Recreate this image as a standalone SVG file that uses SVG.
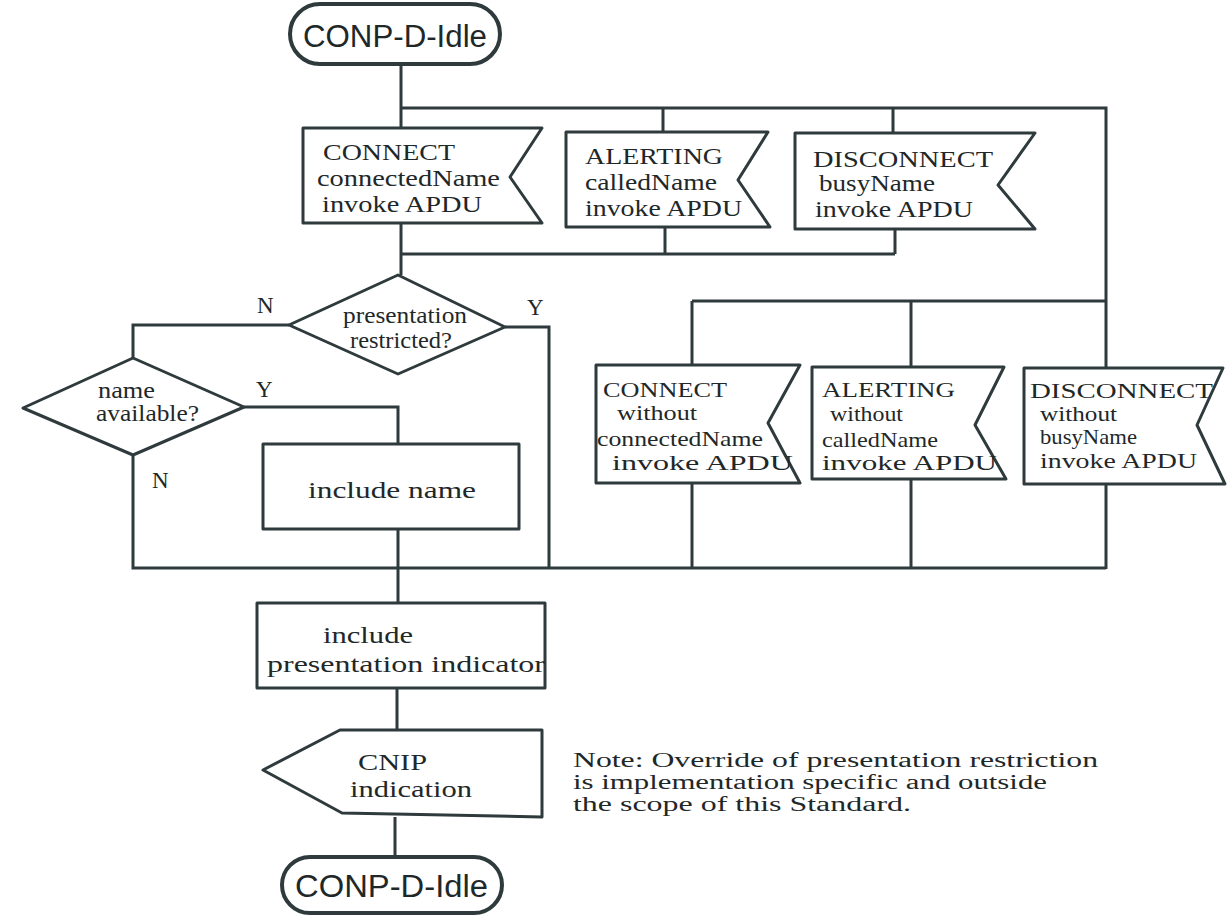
<svg xmlns="http://www.w3.org/2000/svg" width="1229" height="917" viewBox="0 0 1229 917">
<style>
.s{fill:#fff;stroke:#2e3a3c;stroke-width:3;stroke-linejoin:round}
.t{fill:none;stroke:#2e3a3c;stroke-width:4}
.c{fill:none;stroke:#2e3a3c;stroke-width:3;stroke-linejoin:miter}
text{fill:#1f2829;font-family:"Liberation Serif","Times New Roman",serif;font-size:23px}
.sans{font-family:"Liberation Sans",Arial,sans-serif;font-size:31px}
.lbl{font-size:23px}
.note{font-size:20px}
.sm{font-size:21px}
</style>
<rect width="1229" height="917" fill="#fff"/>
<g id="connectors">
<path class="c" d="M401,64 V128"/>
<path class="c" d="M401,108 H1106 V368"/>
<path class="c" d="M663,108 V132"/>
<path class="c" d="M893,108 V133"/>
<path class="c" d="M401,223 V275"/>
<path class="c" d="M665,227 V254"/>
<path class="c" d="M895,230 V254"/>
<path class="c" d="M401,254 H895"/>
<path class="c" d="M692,301 H1106"/>
<path class="c" d="M692,301 V365"/>
<path class="c" d="M911,301 V367"/>
<path class="c" d="M692,484 V569"/>
<path class="c" d="M911,479 V569"/>
<path class="c" d="M1106,484 V569"/>
<path class="c" d="M289,325 H133 V358"/>
<path class="c" d="M505,327 H549 V569"/>
<path class="c" d="M244,407 H398 V444"/>
<path class="c" d="M133,455 V568 H1106"/>
<path class="c" d="M398,529 V603"/>
<path class="c" d="M397,688 V730"/>
<path class="c" d="M395,817 V857"/>
</g>
<g id="start">
<rect class="t" x="290" y="4" width="210" height="60" rx="30" fill="#fff"/>
<text class="sans" x="303" y="47" textLength="184" lengthAdjust="spacingAndGlyphs">CONP-D-Idle</text>
</g>
<g id="connect-in">
<polygon class="s" points="303,128 542,128 510,177 542,223 303,223"/>
<text x="323" y="160" textLength="132" lengthAdjust="spacingAndGlyphs">CONNECT</text>
<text x="317" y="186" textLength="183" lengthAdjust="spacingAndGlyphs">connectedName</text>
<text x="322" y="212" textLength="160" lengthAdjust="spacingAndGlyphs">invoke APDU</text>
</g>
<g id="alerting-in">
<polygon class="s" points="566,132 768,132 738,180 770,227 566,227"/>
<text x="585" y="164" textLength="138" lengthAdjust="spacingAndGlyphs">ALERTING</text>
<text x="585" y="190" textLength="132" lengthAdjust="spacingAndGlyphs">calledName</text>
<text x="585" y="216" textLength="157" lengthAdjust="spacingAndGlyphs">invoke APDU</text>
</g>
<g id="disconnect-in">
<polygon class="s" points="795,133 1035,133 998,185 1035,229 795,229"/>
<text x="813" y="167" textLength="180" lengthAdjust="spacingAndGlyphs">DISCONNECT</text>
<text x="819" y="191" textLength="116" lengthAdjust="spacingAndGlyphs">busyName</text>
<text x="815" y="217" textLength="158" lengthAdjust="spacingAndGlyphs">invoke APDU</text>
</g>
<g id="decision-restricted">
<polygon class="s" points="289,325 398,275 505,327 398,374"/>
<text x="343" y="323" font-size="21" textLength="124" lengthAdjust="spacingAndGlyphs">presentation</text>
<text x="350" y="348" font-size="21" textLength="102" lengthAdjust="spacingAndGlyphs">restricted?</text>
<text class="lbl" x="257" y="313">N</text>
<text class="lbl" x="527" y="315">Y</text>
</g>
<g id="decision-name">
<polygon class="s" points="23,408 133,358 244,407 133,455"/>
<text x="98" y="398" font-size="21" textLength="57" lengthAdjust="spacingAndGlyphs">name</text>
<text x="96" y="421" font-size="21" textLength="103" lengthAdjust="spacingAndGlyphs">available?</text>
<text class="lbl" x="256" y="397">Y</text>
<text class="lbl" x="152" y="488">N</text>
</g>
<g id="include-name">
<rect class="s" x="263" y="444" width="256" height="85"/>
<text x="308" y="498" font-size="25" textLength="168" lengthAdjust="spacingAndGlyphs">include name</text>
</g>
<g id="connect-without">
<polygon class="s" points="596,365 800,365 768,423 800,483 596,483"/>
<text class="sm" x="603" y="397" textLength="124" lengthAdjust="spacingAndGlyphs">CONNECT</text>
<text class="sm" x="617" y="420" textLength="80" lengthAdjust="spacingAndGlyphs">without</text>
<text class="sm" x="597" y="446" textLength="166" lengthAdjust="spacingAndGlyphs">connectedName</text>
<text class="sm" x="612" y="470" textLength="181" lengthAdjust="spacingAndGlyphs">invoke APDU</text>
</g>
<g id="alerting-without">
<polygon class="s" points="812,367 1004,367 975,425 1006,479 812,479"/>
<text class="sm" x="822" y="397" textLength="133" lengthAdjust="spacingAndGlyphs">ALERTING</text>
<text class="sm" x="830" y="421" textLength="73" lengthAdjust="spacingAndGlyphs">without</text>
<text class="sm" x="822" y="447" textLength="116" lengthAdjust="spacingAndGlyphs">calledName</text>
<text class="sm" x="822" y="470" textLength="175" lengthAdjust="spacingAndGlyphs">invoke APDU</text>
</g>
<g id="disconnect-without">
<polygon class="s" points="1024,368 1223,368 1197,425 1225,484 1024,484"/>
<text class="sm" x="1030" y="398" textLength="183" lengthAdjust="spacingAndGlyphs">DISCONNECT</text>
<text class="sm" x="1040" y="421" textLength="77" lengthAdjust="spacingAndGlyphs">without</text>
<text class="sm" x="1040" y="444" textLength="97" lengthAdjust="spacingAndGlyphs">busyName</text>
<text class="sm" x="1040" y="468" textLength="157" lengthAdjust="spacingAndGlyphs">invoke APDU</text>
</g>
<g id="include-indicator">
<rect class="s" x="257" y="603" width="288" height="85"/>
<text x="323" y="643" font-size="26" textLength="90" lengthAdjust="spacingAndGlyphs">include</text>
<text x="267" y="672" font-size="26" textLength="278" lengthAdjust="spacingAndGlyphs">presentation indicator</text>
</g>
<g id="cnip-out">
<polygon class="s" points="340,730 542,730 542,817 342,813 263,770"/>
<text x="358" y="770" font-size="26" textLength="69" lengthAdjust="spacingAndGlyphs">CNIP</text>
<text x="350" y="797" font-size="26" textLength="122" lengthAdjust="spacingAndGlyphs">indication</text>
</g>
<g id="end">
<rect class="t" x="282" y="857" width="220" height="56" rx="28" fill="#fff"/>
<text class="sans" x="295" y="897" textLength="193" lengthAdjust="spacingAndGlyphs">CONP-D-Idle</text>
</g>
<g id="note">
<text class="note" x="573" y="767" textLength="525" lengthAdjust="spacingAndGlyphs">Note: Override of presentation restriction</text>
<text class="note" x="573" y="789" textLength="474" lengthAdjust="spacingAndGlyphs">is implementation specific and outside</text>
<text class="note" x="573" y="811" textLength="338" lengthAdjust="spacingAndGlyphs">the scope of this Standard.</text>
</g>
</svg>
